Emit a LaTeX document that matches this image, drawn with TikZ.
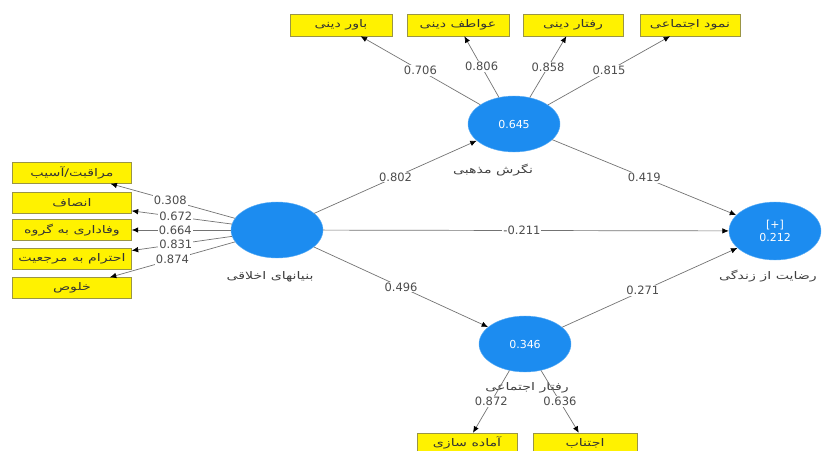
\documentclass[tikz,border=0pt]{standalone}
\usepackage{fontspec}
\setmainfont{DejaVu Sans}
\newfontfamily\arabicfont[Script=Arabic,FakeStretch=1.35]{DejaVu Sans}
\TeXXeTstate=1
\usetikzlibrary{shapes.geometric,arrows.meta}

\definecolor{lvblue}{RGB}{28,140,240}
\newcommand{\fatxt}[1]{{\arabicfont\beginR #1\endR}}

\tikzset{
 latent/.style={ellipse,fill=lvblue,draw=lvblue!70!white,minimum width=92pt,minimum height=56pt,inner sep=0pt,text=white,font=\fontsize{11}{13}\selectfont},
 ind/.style={rectangle,fill=yellow,draw=yellow!55!black,line width=0.4pt,minimum width=102pt,minimum height=22pt,inner sep=0pt,text=black!80,font=\fontsize{10.5}{12}\selectfont},
 wt/.style={fill=white,inner sep=1pt,text=black!70,font=\fontsize{11.5}{13}\selectfont},
 lbl/.style={text=black!75,font=\fontsize{10.5}{12}\selectfont},
 arr/.style={draw=black!55,line width=0.7pt,-{Latex[length=6.5pt,width=5.5pt,color=black]}},
}

\begin{document}
\begin{tikzpicture}[x=1pt,y=-1pt]
 \useasboundingbox (0,0) rectangle (824,450);

 % latent variables
 \node[latent] (akh) at (277,230) {};
 \node[latent] (neg) at (514,124) {0.645};
 \node[latent] (raf) at (525,344) {0.346};
 \node[latent,align=center,minimum height=58pt] (rez) at (775,231) {[+]\\0.212};

 \node[lbl] (akhl) at (270,277) {\fatxt{بنیانهای اخلاقی}};
 \node[lbl] (negl) at (493,170) {\fatxt{نگرش مذهبی}};
 \node[lbl] (rafl) at (527,388) {\fatxt{رفتار اجتماعی}};
 \node[lbl] (rezl) at (768,276) {\fatxt{رضایت از زندگی}};

 % indicators
 \node[ind] (n1) at (341,25) {\fatxt{باور دینی}};
 \node[ind] (n2) at (458,25) {\fatxt{عواطف دینی}};
 \node[ind,minimum width=100pt] (n3) at (573,25) {\fatxt{رفتار دینی}};
 \node[ind,minimum width=100pt] (n4) at (690,25) {\fatxt{نمود اجتماعی}};

 \node[ind,minimum width=119pt,minimum height=21pt] (m1) at (72,173) {\fatxt{مراقبت/آسیب}};
 \node[ind,minimum width=119pt,minimum height=21pt] (m2) at (72,203) {\fatxt{انصاف}};
 \node[ind,minimum width=119pt,minimum height=21pt] (m3) at (72,230) {\fatxt{وفاداری به گروه}};
 \node[ind,minimum width=119pt,minimum height=21pt] (m4) at (72,259) {\fatxt{احترام به مرجعیت}};
 \node[ind,minimum width=119pt,minimum height=21pt] (m5) at (72,288) {\fatxt{خلوص}};

 \node[ind,minimum width=100pt,minimum height=20pt] (r1) at (467,443) {\fatxt{آماده سازی}};
 \node[ind,minimum width=104pt,minimum height=20pt] (r2) at (585,443) {\fatxt{اجتناب}};

 % outer loadings
 \draw [arr] (neg) edge node[wt] {0.706} (n1);
 \draw [arr] (neg) edge node[wt] {0.806} (n2);
 \draw [arr] (neg) edge node[wt] {0.858} (n3);
 \draw [arr] (neg) edge node[wt] {0.815} (n4);

 \draw [arr] (akh) edge node[wt,pos=.52] {0.308} (m1);
 \draw [arr] (akh) edge node[wt,pos=.56] {0.672} (m2);
 \draw [arr] (akh) edge node[wt,pos=.56] {0.664} (m3);
 \draw [arr] (akh) edge node[wt,pos=.56] {0.831} (m4);
 \draw [arr] (akh) edge node[wt,pos=.5] {0.874} (m5);

 \draw [arr] (raf) edge node[wt] {0.872} (r1);
 \draw [arr] (raf) edge node[wt] {0.636} (r2);

 % paths
 \draw [arr] (akh) edge node[wt] {0.802} (neg);
 \draw [arr] (akh) edge node[wt,pos=.49] {-0.211} (rez);
 \draw [arr] (akh) edge node[wt] {0.496} (raf);
 \draw [arr] (neg) edge node[wt] {0.419} (rez);
 \draw [arr] (raf) edge node[wt,pos=.46] {0.271} (rez);
\end{tikzpicture}
\end{document}
